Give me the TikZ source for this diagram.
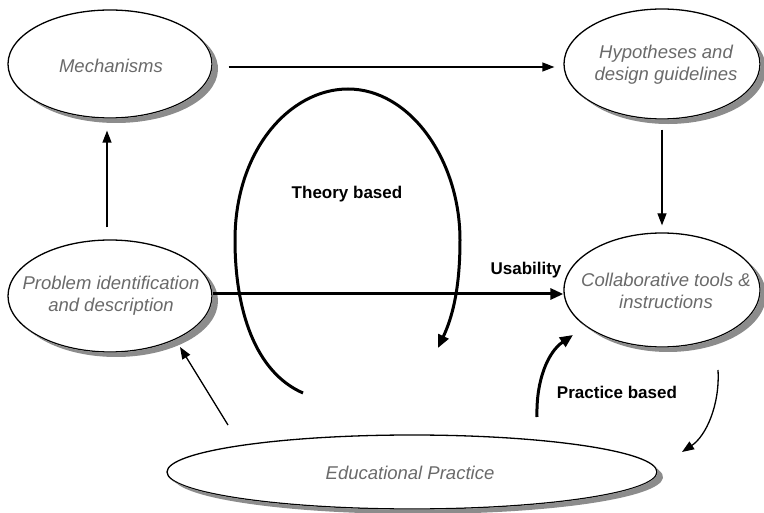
\documentclass[tikz,border=0pt]{standalone}
\usepackage{fontspec}
\setmainfont{Liberation Sans}
\usetikzlibrary{shapes.geometric,arrows.meta}
\definecolor{labelgray}{HTML}{6A6A6A}
\definecolor{shadowgray}{HTML}{8C8C8C}
\tikzset{
  stage/.style={ellipse, draw=black, line width=1.3pt, fill=white,
    inner sep=0pt},
  stageshadow/.style={fill=shadowgray},
  stagetext/.style={font=\fontsize{18.5}{22}\selectfont\itshape,
    text=labelgray, align=center},
  flowlabel/.style={font=\fontsize{17}{20}\selectfont\bfseries},
  thin arrow/.style={line width=1.3pt, -{Triangle[length=12pt,width=9pt]}},
  thick arrow/.style={line width=3pt, -{Triangle[length=13pt,width=11pt]}},
}
\begin{document}
\begin{tikzpicture}[x=1pt,y=-1pt]
\useasboundingbox (0,0) rectangle (764,513);

% stages of the cycle
\node[stage, minimum width=204pt, minimum height=108pt] (mech) at (110,64) {};
\node[stage, minimum width=196pt, minimum height=110pt] (hyp) at (662,64) {};
\node[stage, minimum width=204pt, minimum height=112pt] (prob) at (110,296) {};
\node[stage, minimum width=196pt, minimum height=114pt] (collab) at (662,290) {};
\node[stage, minimum width=490pt, minimum height=74pt] (edu) at (412,472) {};

% drop shadows: crescent between the shifted ellipse and the stage outline
\fill[stageshadow] ({116+102*cos(-32.4)},{69+54*sin(-32.4)})
  arc[start angle=-32.4, end angle=147.6, x radius=102, y radius=54]
  -- ({110+102.6*cos(147.6)},{64+54.6*sin(147.6)})
  arc[start angle=147.6, end angle=-32.4, x radius=102.6, y radius=54.6] -- cycle;
\fill[stageshadow] ({668+98*cos(-34)},{69+55*sin(-34)})
  arc[start angle=-34, end angle=146, x radius=98, y radius=55]
  -- ({662+98.6*cos(146)},{64+55.6*sin(146)})
  arc[start angle=146, end angle=-34, x radius=98.6, y radius=55.6] -- cycle;
\fill[stageshadow] ({116+102*cos(-33.4)},{301+56*sin(-33.4)})
  arc[start angle=-33.4, end angle=146.6, x radius=102, y radius=56]
  -- ({110+102.6*cos(146.6)},{296+56.6*sin(146.6)})
  arc[start angle=146.6, end angle=-33.4, x radius=102.6, y radius=56.6] -- cycle;
\fill[stageshadow] ({668+98*cos(-34.9)},{295+57*sin(-34.9)})
  arc[start angle=-34.9, end angle=145.1, x radius=98, y radius=57]
  -- ({662+98.6*cos(145.1)},{290+57.6*sin(145.1)})
  arc[start angle=145.1, end angle=-34.9, x radius=98.6, y radius=57.6] -- cycle;
\fill[stageshadow] ({418+245*cos(-10.3)},{477+37*sin(-10.3)})
  arc[start angle=-10.3, end angle=169.7, x radius=245, y radius=37]
  -- ({412+245.6*cos(169.7)},{472+37.6*sin(169.7)})
  arc[start angle=169.7, end angle=-10.3, x radius=245.6, y radius=37.6] -- cycle;

% stage texts
\node[stagetext] (mechtxt) at (111,66) {Mechanisms};
\node[stagetext] (hyptxt) at (666,65) {Hypotheses and\\design guidelines};
\node[stagetext] (probtxt) at (111,296) {Problem identification\\and description};
\node[stagetext] (collabtxt) at (666,291) {Collaborative tools \&\\instructions};
\node[stagetext] (edutxt) at (410,473) {Educational Practice};

% straight connectors
\draw[thin arrow] ([shift={(16,3)}]mech.east) -- ([shift={(-9,3)}]hyp.west);
\draw[thin arrow] ([shift={(-3,-12)}]prob.north) -- ([shift={(-3,12)}]mech.south);
\draw[thin arrow] ([shift={(0,10)}]hyp.south) -- ([shift={(0,-7)}]collab.north);
\draw[thick arrow] ([shift={(0,-2)}]prob.east) -- ([shift={(0,4)}]collab.west);

% back from practice to problem identification
\coordinate (e1) at (228,425);
\coordinate (p2) at (180,347);
\draw[thin arrow] (e1) -- (p2);

% theory based loop
\coordinate (t0) at (303,393);
\coordinate (tl) at (235,240);
\coordinate (tt) at (348,89);
\coordinate (tr) at (460,240);
\coordinate (t1) at (438,348);
\draw[thick arrow] (t0) .. controls (255,372) and (235,310) .. (tl)
  .. controls (235,150) and (290,89) .. (tt)
  .. controls (410,89) and (460,160) .. (tr)
  .. controls (460,290) and (452,318) .. (t1);

% practice based arcs
\coordinate (c0) at (537,417);
\coordinate (c1) at (573,335);
\draw[thick arrow] (c0) .. controls (536,380) and (548,352) .. (c1);
\coordinate (d0) at (718,370);
\coordinate (d1) at (682,452);
\draw[thin arrow] (d0) .. controls (720,405) and (706,436) .. (d1);

% labels
\node[flowlabel] (usab) at (526,270) {Usability};
\node[flowlabel] (theory) at (347,194) {Theory based};
\node[flowlabel] (practice) at (617,392) {Practice based};
\end{tikzpicture}
\end{document}
